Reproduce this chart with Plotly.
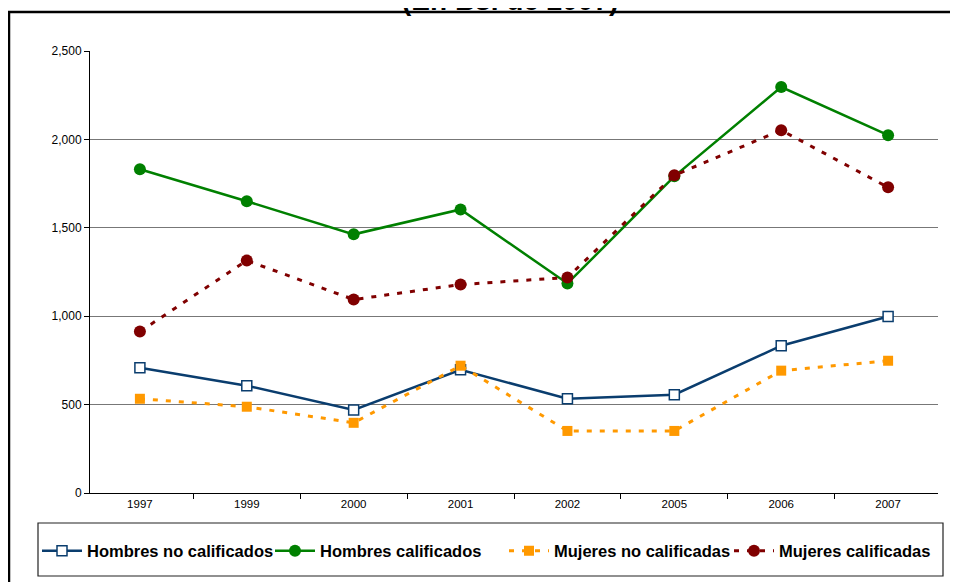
import plotly.graph_objects as go

# data (En Bs. de 2007)
years = ["1997", "1999", "2000", "2001", "2002", "2005", "2006", "2007"]
hombres_no_calif = [709, 607, 470, 697, 533, 556, 833, 998]
hombres_calif = [1831, 1650, 1463, 1604, 1185, 1791, 2296, 2024]
mujeres_no_calif = [533, 488, 397, 720, 351, 351, 692, 748]
mujeres_calif = [913, 1315, 1094, 1179, 1219, 1797, 2052, 1729]

W, H = 958, 582
L, R, T, B = 82, 28, 43, 97
pw, ph = W - L - R, H - T - B


def px_x(p):
    return (p - L) / pw


def px_y(p):
    return (H - B - p) / ph


fig = go.Figure()

fig.add_trace(go.Scatter(
    x=years, y=hombres_no_calif, name="Hombres no calificados", mode="lines+markers",
    line=dict(color="#0a3d6e", width=2.5), legend="legend",
    marker=dict(symbol="square", size=10, color="white", line=dict(color="#0a3d6e", width=1.5)),
))
fig.add_trace(go.Scatter(
    x=years, y=hombres_calif, name="Hombres calificados", mode="lines+markers",
    line=dict(color="#008000", width=2.5), legend="legend2",
    marker=dict(symbol="circle", size=12, color="#008000"),
))
fig.add_trace(go.Scatter(
    x=years, y=mujeres_no_calif, name="Mujeres no calificadas", mode="lines+markers",
    line=dict(color="#ff9900", width=3, dash="5px,8px"), legend="legend3",
    marker=dict(symbol="square", size=10, color="#ff9900"),
))
fig.add_trace(go.Scatter(
    x=years, y=mujeres_calif, name="Mujeres calificadas", mode="lines+markers",
    line=dict(color="#800000", width=3, dash="5px,8px"), legend="legend4",
    marker=dict(symbol="circle", size=12, color="#800000"),
))

# outer chart border (cut off by the picture edge) and legend box
fig.add_shape(type="rect", xref="paper", yref="paper",
              x0=px_x(1), x1=px_x(1000), y0=px_y(640), y1=px_y(4),
              line=dict(color="black", width=2.5), layer="below")
fig.add_shape(type="rect", xref="paper", yref="paper",
              x0=px_x(30), x1=px_x(935), y0=px_y(568), y1=px_y(515),
              line=dict(color="#222222", width=1.2), layer="below")

fig.add_annotation(text="<b>(En Bs. de 2007)</b>", xref="paper", yref="paper",
                   x=px_x(502), y=px_y(9.5), xanchor="center", yanchor="bottom",
                   showarrow=False, font=dict(size=28, color="black"))


def legend_at(left_px):
    return dict(orientation="h", xref="container", x=left_px / W, xanchor="left",
                yref="container", y=(H - 543) / H, yanchor="middle", itemwidth=40,
                font=dict(size=16.5, color="black", weight="bold"),
                bgcolor="rgba(0,0,0,0)", borderwidth=0, itemclick=False)


fig.update_layout(
    width=W, height=H,
    margin=dict(l=L, r=R, t=T, b=B, autoexpand=False),
    paper_bgcolor="white", plot_bgcolor="white",
    font=dict(family="Liberation Sans, Arial, sans-serif", color="black", size=12),
    showlegend=True,
    legend=legend_at(29),
    legend2=legend_at(262),
    legend3=legend_at(496),
    legend4=legend_at(721),
)
fig.update_xaxes(
    type="category", showgrid=False, showline=True, linecolor="black", linewidth=1,
    ticks="outside", ticklen=5, tickcolor="black", tickson="boundaries",
    tickfont=dict(size=11.5), mirror=False,
)
fig.update_yaxes(
    range=[0, 2500], dtick=500, tickformat=",", showgrid=True, gridcolor="#777777", gridwidth=1,
    showline=True, linecolor="black", linewidth=1, ticks="outside", ticklen=5, tickcolor="black",
    tickfont=dict(size=12), zeroline=False,
)

fig.write_html("out.html")
